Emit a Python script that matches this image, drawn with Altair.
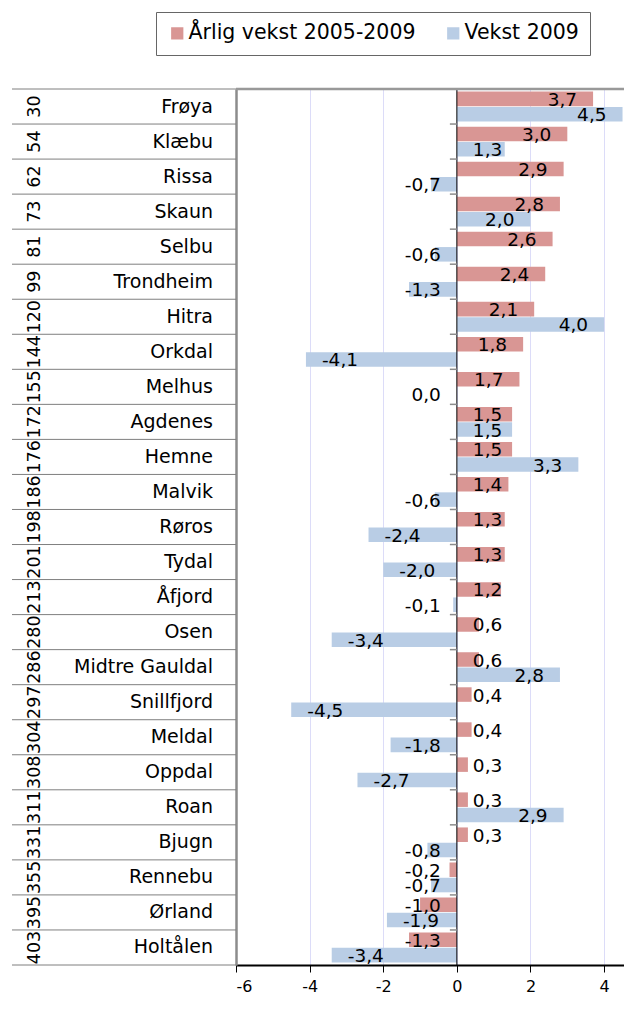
import altair as alt
import pandas as pd

names = ["Frøya", "Klæbu", "Rissa", "Skaun", "Selbu", "Trondheim", "Hitra", "Orkdal",
         "Melhus", "Agdenes", "Hemne", "Malvik", "Røros", "Tydal", "Åfjord", "Osen",
         "Midtre Gauldal", "Snillfjord", "Meldal", "Oppdal", "Roan", "Bjugn", "Rennebu",
         "Ørland", "Holtålen"]
ranks = [30, 54, 62, 73, 81, 99, 120, 144, 155, 172, 176, 186, 198, 201, 213, 280,
         286, 297, 304, 308, 311, 331, 355, 395, 403]
annual = [3.7, 3.0, 2.9, 2.8, 2.6, 2.4, 2.1, 1.8, 1.7, 1.5, 1.5, 1.4, 1.3, 1.3, 1.2, 0.6,
          0.6, 0.4, 0.4, 0.3, 0.3, 0.3, -0.2, -1.0, -1.3]
growth09 = [4.5, 1.3, -0.7, 2.0, -0.6, -1.3, 4.0, -4.1, 0.0, 1.5, 3.3, -0.6, -2.4, -2.0,
            -0.1, -3.4, 2.8, -4.5, -1.8, -2.7, 2.9, -0.8, -0.7, -1.9, -3.4]
series = ["Årlig vekst 2005-2009", "Vekst 2009"]
colors = ["#D99694", "#B9CDE5"]
x_ticks = [-6, -4, -2, 0, 2, 4]
x_domain = [-6, 4.54]

F = "DejaVu Sans"
W, H = 388, 876

rows = []
for n, r, a, g in zip(names, ranks, annual, growth09):
    for s, v in zip(series, (a, g)):
        if v > 0:
            big = v >= 1.65
            side = "R" if big else "L"
        else:
            big = v <= -1.85
            side = "L" if big else "R"
        rows.append(dict(name=n, series=s, value=v,
                         label=f"{v:.1f}".replace(".", ","),
                         lx=v if big else 0.0, side=side))
df = pd.DataFrame(rows)
cats = pd.DataFrame({"name": names, "rank": [str(r) for r in ranks]})

xs = alt.Scale(domain=x_domain, nice=False, zero=False)
ys = alt.Scale(paddingInner=0, paddingOuter=0)
yo = alt.Scale(paddingInner=0.05, paddingOuter=0.17)

Y = alt.Y("name:N", sort=names, scale=ys,
          axis=alt.Axis(labels=False, ticks=False, title=None, grid=False,
                        domainColor="#8C8C8C", domainWidth=2.5))
YO = alt.YOffset("series:N", sort=series, scale=yo)

bars = alt.Chart(df).mark_bar().encode(
    x=alt.X("value:Q", scale=xs, stack=None,
            axis=alt.Axis(values=x_ticks, title=None, grid=True, gridColor="#DCDCF8",
                          gridWidth=1, domainColor="black", domainWidth=2,
                          tickColor="black", tickSize=7, tickWidth=1,
                          labelFont=F, labelFontSize=16, labelColor="black",
                          labelPadding=6, labelExpr="'' + datum.value")),
    y=Y,
    yOffset=YO,
    color=alt.Color("series:N", sort=series,
                    scale=alt.Scale(domain=series, range=colors),
                    legend=alt.Legend(title=None, orient="none", legendX=-80, legendY=-77,
                                      direction="horizontal", symbolType="square",
                                      symbolSize=150, symbolStrokeWidth=0,
                                      labelFont=F, labelFontSize=20.5, labelColor="black",
                                      labelLimit=400,
                                      strokeColor="#666666", padding=11, columnPadding=27,
                                      labelOffset=1)),
)

zero_line = alt.Chart(pd.DataFrame({"z": [0]})).mark_rule(color="black", strokeWidth=1).encode(
    x=alt.X("z:Q", scale=xs))

zero_ticks = alt.Chart(cats).transform_calculate(zz="0").mark_rule(
    color="#8C8C8C", strokeWidth=1.5, x2Offset=-7).encode(
    x=alt.X("zz:Q", scale=xs),
    x2=alt.X2("zz:Q"),
    y=alt.Y("name:N", sort=names, scale=ys, bandPosition=0),
)

top_line = alt.Chart(pd.DataFrame({"z": [0]})).mark_rule(color="#999999", strokeWidth=2.5).encode(
    x=alt.value(0), x2=alt.value(W), y=alt.value(0))

seps = alt.Chart(cats).mark_rule(color="#7F7F7F", strokeWidth=1).encode(
    y=alt.Y("name:N", sort=names, scale=ys, bandPosition=0),
    x=alt.value(-224), x2=alt.value(0))

bottom_sep = alt.Chart(pd.DataFrame({"z": [0]})).mark_rule(color="#7F7F7F", strokeWidth=1).encode(
    x=alt.value(-224), x2=alt.value(0), y=alt.value(H))

name_text = alt.Chart(cats).mark_text(align="right", baseline="middle", font=F,
                                      fontSize=19, color="black").encode(
    y=alt.Y("name:N", sort=names, scale=ys), x=alt.value(-23), text="name:N")

rank_text = alt.Chart(cats).mark_text(align="center", baseline="middle", font=F,
                                      fontSize=17.5, angle=270, color="black").encode(
    y=alt.Y("name:N", sort=names, scale=ys), x=alt.value(-201.5), text="rank:N")

lab_r = alt.Chart(df).transform_filter(alt.datum.side == "R").mark_text(
    align="right", baseline="middle", dx=-16, dy=1, font=F, fontSize=18.5, color="black").encode(
    x=alt.X("lx:Q", scale=xs), y=alt.Y("name:N", sort=names, scale=ys), yOffset=YO,
    text="label:N")

lab_l = alt.Chart(df).transform_filter(alt.datum.side == "L").mark_text(
    align="left", baseline="middle", dx=16, dy=1, font=F, fontSize=18.5, color="black").encode(
    x=alt.X("lx:Q", scale=xs), y=alt.Y("name:N", sort=names, scale=ys), yOffset=YO,
    text="label:N")

chart = alt.layer(
    bars, zero_line, zero_ticks, top_line, seps, bottom_sep, name_text, rank_text, lab_r, lab_l
).properties(
    width=W, height=H,
    autosize=alt.AutoSizeParams(type="none"),
    padding={"left": 228, "top": 81, "right": 0, "bottom": 32},
).configure_view(strokeWidth=0)

chart.save("out.html", embed_options={"renderer": "svg", "actions": False})
